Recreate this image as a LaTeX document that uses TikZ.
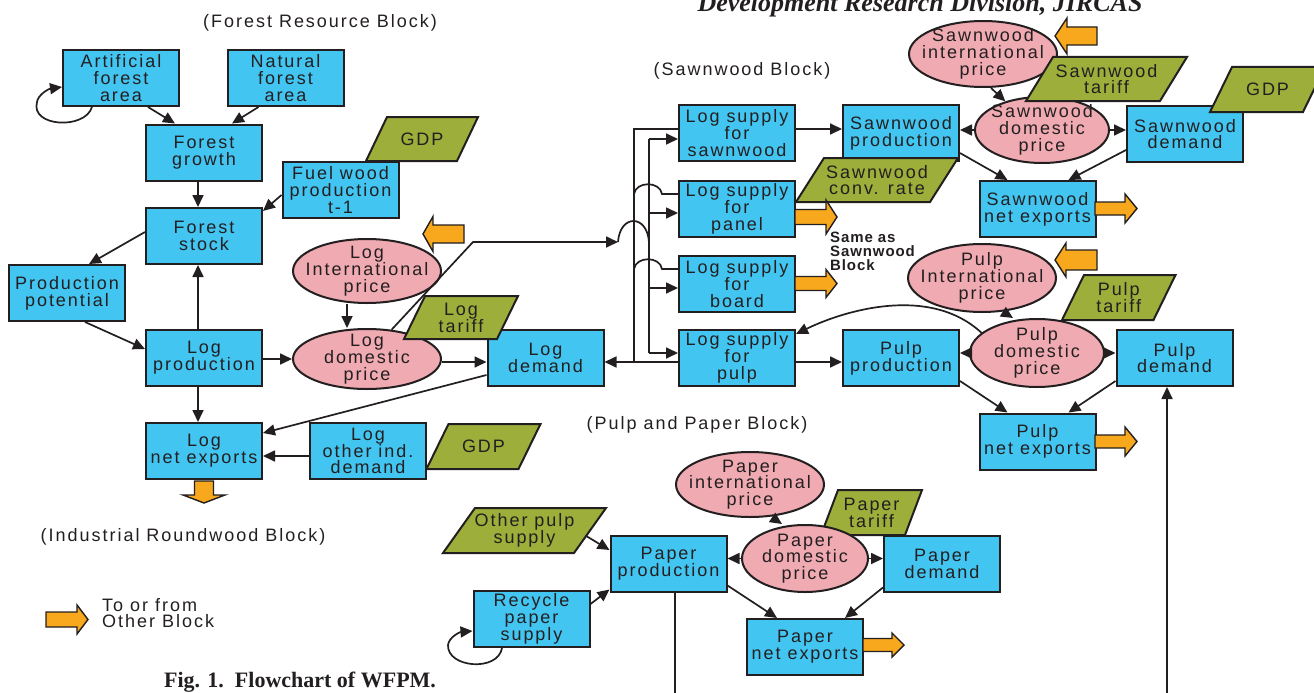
\documentclass[tikz,border=0pt]{standalone}
\usepackage{fontspec}
\setmainfont{Liberation Sans}[LetterSpace=11]
\newfontfamily\serifcap{Liberation Serif}
\newfontfamily\tightsans{Liberation Sans}[LetterSpace=6]
\usetikzlibrary{shapes.geometric,arrows.meta}
\definecolor{boxblue}{RGB}{66,197,241}
\definecolor{pinkfill}{RGB}{239,170,178}
\definecolor{olive}{RGB}{157,174,58}
\definecolor{orangefill}{RGB}{247,168,29}
\definecolor{ink}{RGB}{35,31,32}
\tikzset{
 txt/.style={font=\fontsize{18}{16.8}\selectfont, text=ink, align=center, inner sep=0pt},
 box/.style={txt, draw=ink, line width=2pt, fill=boxblue, minimum width=116pt, minimum height=56pt},
 oval/.style={txt, ellipse, draw=ink, line width=2pt, fill=pinkfill, inner xsep=-20pt, inner ysep=-12pt},
 paratext/.style={txt},
 parafill/.style={fill=olive, draw=ink, line width=2pt, line join=miter},
 conn/.style={draw=ink, line width=1.7pt},
 arr/.style={conn, -{Triangle[length=12pt,width=11pt]}},
 oarr/.style={fill=orangefill, draw=ink, line width=1.4pt, line join=miter},
 pics/oarrow/.style n args={4}{code={\path[oarr] (0,-#2) -- ({#1-#4},-#2) -- ({#1-#4},-#3) -- (#1,0) -- ({#1-#4},#3) -- ({#1-#4},#2) -- (0,#2) -- cycle;}},
}
\newcommand\paragram[7]{%
 \path[parafill] ({#2-#4/2-#6},{#3+#5/2}) -- ({#2+#4/2-#6},{#3+#5/2}) -- ({#2+#4/2+#6},{#3-#5/2}) -- ({#2-#4/2+#6},{#3-#5/2}) -- cycle;
 \node[paratext, minimum width=#4, minimum height=#5] (#1) at (#2,#3) {#7};}
\begin{document}
\begin{tikzpicture}[x=1pt,y=-1pt]
\useasboundingbox (0,0) rectangle (1314,693);
\fill[white] (0,0) rectangle (1314,693);
% boxes
\node[box] (afa) at (121,78) {Artificial\\forest\\area};
\node[box] (nfa) at (285.5,78) {Natural\\forest\\area};
\node[box] (fg) at (204,152.5) {Forest\\growth};
\node[box] (fs) at (204,236) {Forest\\stock};
\node[box] (fw) at (340.5,190) {Fuel wood\\production\\t-1};
\node[box] (pp) at (67,293) {Production\\potential};
\node[box] (lp) at (204,358) {Log\\production};
\node[box] (lne) at (204,451) {Log\\net exports};
\node[box] (lod) at (368,451) {Log\\other ind.\\demand};
\node[box] (ld) at (545.5,358) {Log\\demand};
\node[box] (lss) at (737,133) {Log supply\\for\\sawnwood};
\node[box] (lsp) at (737,209) {Log supply\\for\\panel};
\node[box] (lsb) at (737,284) {Log supply\\for\\board};
\node[box] (lspu) at (737,358) {Log supply\\for\\pulp};
\node[box] (sp) at (901,133) {Sawnwood\\production};
\node[box] (sd) at (1185,134) {Sawnwood\\demand};
\node[box] (sne) at (1037.5,209) {Sawnwood\\net exports};
\node[box] (pup) at (901,358) {Pulp\\production};
\node[box] (pud) at (1174.5,358) {Pulp\\demand};
\node[box] (pune) at (1037.5,441.5) {Pulp\\net exports};
\node[box] (pap) at (668.5,563.5) {Paper\\production};
\node[box] (pad) at (942,563.5) {Paper\\demand};
\node[box] (pane) at (805,647) {Paper\\net exports};
\node[box] (rps) at (531.5,619) {Recycle\\paper\\supply};
% ellipses
\node[oval, minimum width=148, minimum height=64] (lip) at (367,271) {Log\\International\\price};
\node[oval, minimum width=148, minimum height=60] (ldp) at (367,359) {Log\\domestic\\price};
\node[oval, minimum width=148, minimum height=66] (sip) at (983,54) {Sawnwood\\international\\price};
\node[oval, minimum width=134, minimum height=66] (sdp) at (1042,130) {Sawnwood\\domestic\\price};
\node[oval, minimum width=148, minimum height=68] (pip) at (982,278) {Pulp\\International\\price};
\node[oval, minimum width=134, minimum height=68] (pdp) at (1037,353) {Pulp\\domestic\\price};
\node[oval, minimum width=148, minimum height=65] (papi) at (750,484.5) {Paper\\international\\price};
\paragram{ptar}{871.5}{512.5}{84}{45}{8.5}{Paper\\tariff}
\node[oval, minimum width=126, minimum height=67] (papd) at (805,558.5) {Paper\\domestic\\price};
% parallelograms
\paragram{gdpa}{422}{139}{91}{44}{10.5}{GDP}
\paragram{lt}{461}{317.5}{93}{43}{10.5}{Log\\tariff}
\paragram{gdpb}{483.5}{446.5}{92}{45}{11}{GDP}
\paragram{scr}{877}{180}{134}{44}{14}{Sawnwood\\conv. rate}
\paragram{st}{1106.5}{79}{134}{44}{13.5}{Sawnwood\\tariff}
\paragram{gdpc}{1267.5}{89.5}{93}{45}{11}{GDP}
\paragram{pt}{1118.75}{297.5}{91.5}{45}{11}{Pulp\\tariff}
\paragram{ops}{524.5}{530.5}{131}{45}{16}{Other pulp\\supply}
% forest block connectors
\draw[arr] ([xshift=27pt]afa.south) -- ([xshift=-29pt]fg.north);
\draw[arr] ([xshift=-27pt]nfa.south) -- ([xshift=28pt]fg.north);
\draw[arr] ([xshift=-29pt]afa.south) .. controls (85,130) and (30,127) .. (37,102) .. controls (38,95) and (48,89) .. ([yshift=-9pt]afa.west);
\draw[arr] ([xshift=-6pt]fg.south) -- ([xshift=-6pt]fs.north);
\draw[arr] ([yshift=-5pt]fw.west) -- ([yshift=-4pt]fs.north east);
\draw[arr] ([yshift=4pt]fs.west) -- ([xshift=22pt]pp.north);
\draw[arr] ([xshift=18pt]pp.south) -- ([yshift=9pt]lp.west);
\draw[arr] ([xshift=-6pt]lp.north) -- ([xshift=-6pt]fs.south);
\draw[arr] ([xshift=-6pt]lp.south) -- ([xshift=-6pt]lne.north);
\draw[arr] ([yshift=-1pt]lp.east) -- (ldp.west);
\draw[arr] ([xshift=-20pt]lip.south) -- ([xshift=-20pt]ldp.north);
\draw[arr] ([yshift=-3pt]ldp.east) -- ([yshift=-4pt]ld.west);
\draw[arr] ([yshift=12pt]ld.south west) -- ([yshift=-11pt]lne.north east);
\draw[arr] ([yshift=-5pt]lod.west) -- ([yshift=-5pt]lne.east);
% log domestic price to log supplies
\coordinate (k1) at (473,242);
\coordinate (hopa) at (618,242);
\coordinate (hopb) at (649,242);
\draw[arr] (ldp.50) -- (k1) -- (hopa);
\draw[conn] (hopa) .. controls (620,214) and (647,214) .. (hopb);
\coordinate (da) at (649,139);
\coordinate (db) at (649,213);
\coordinate (dc) at (649,288);
\coordinate (dd) at (649,353);
\draw[conn] (da) -- (dd);
\draw[arr] (da) -- (lss.west |- da);
\draw[arr] (db) -- (lsp.west |- db);
\draw[arr] (dc) -- (lsb.west |- dc);
\draw[arr] (dd) -- (lspu.west |- dd);
% log supplies back to log demand
\coordinate (ca) at (634,129);
\coordinate (cb) at (634,194);
\coordinate (cc) at (634,269);
\coordinate (cd) at (634,362);
\coordinate (cb2) at (662,194);
\coordinate (cc2) at (662,269);
\draw[conn] (lss.west |- ca) -- (ca) -- (cd);
\draw[conn] (lsp.west |- cb) -- (cb2) .. controls (660,181) and (636,181) .. (cb);
\draw[conn] (lsb.west |- cc) -- (cc2) .. controls (660,256) and (636,256) .. (cc);
\draw[arr] (lspu.west |- cd) -- (ld.east |- cd);
% sawnwood block
\draw[arr] ([yshift=4pt]lss.east) -- ([yshift=4pt]sp.west);
\draw[arr] (sdp.west) -- (sp.east |- sdp.west);
\draw[arr] (sdp.east) -- (sd.west |- sdp.east);
\draw[arr] ([xshift=8pt]sip.south) -- (sdp.142);
\draw[arr] ([yshift=9pt]sp.south east) -- ([xshift=-30pt]sne.north);
\draw[arr] ([yshift=13pt]sd.south west) -- ([xshift=31pt]sne.north);
% pulp block
\draw[arr] ([yshift=-4pt]lspu.east) -- ([yshift=-4pt]pup.west);
\draw[arr] (pdp.west) -- (pup.east |- pdp.west);
\draw[arr] (pdp.east) -- (pud.west |- pdp.east);
\draw[arr] ([xshift=23pt]pip.south) -- ([xshift=-24pt]pdp.north);
\draw[arr] ([yshift=6pt]pup.south east) -- ([xshift=-30pt]pune.north);
\draw[arr] ([yshift=6pt]pud.south west) -- ([xshift=31pt]pune.north);
\draw[arr] (pdp.160) .. controls (930,285) and (845,310) .. ([yshift=-5pt]lspu.north east);
\coordinate (pubot) at (1167,700);
\draw[arr] (pubot) -- (pubot |- pud.south);
% paper block
\draw[arr] ([xshift=23pt]papi.south) -- ([xshift=-23pt]papd.north);
\draw[arr] (papd.west) -- (pap.east |- papd.west);
\draw[arr] (papd.east) -- (pad.west |- papd.east);
\draw[arr] ([yshift=7pt]pap.south east) -- ([xshift=-28pt]pane.north);
\draw[arr] ([yshift=5pt]pad.south west) -- ([xshift=40pt]pane.north);
\draw[arr] ([shift={(-4pt,-5.5pt)}]ops.east) -- ([yshift=13.5pt]pap.west);
\draw[arr] ([yshift=-14pt]rps.north east) -- ([yshift=3pt]pap.south west);
\draw[arr] ([xshift=-29.5pt]rps.south) .. controls (498,672) and (447,668) .. (448,645) .. controls (449,637) and (460,632) .. ([yshift=-12pt]rps.west);
\coordinate (papbot) at (675,700);
\draw[conn] ([xshift=6.5pt]pap.south) -- (papbot);
% orange block arrows
\pic at (1095,208.5) {oarrow={42}{6.5}{14.5}{12}};
\pic at (1095,441.5) {oarrow={42}{6.5}{14.5}{12}};
\pic at (795,217) {oarrow={42}{7.5}{17}{11}};
\pic at (795,283.5) {oarrow={42}{7}{14}{11}};
\pic at (863,645) {oarrow={41}{6.5}{12}{12}};
\pic at (46,619.5) {oarrow={42}{7.5}{14.5}{11}};
\pic[rotate=180] at (464,234) {oarrow={41}{9}{17.5}{10}};
\pic[rotate=180] at (1097,36) {oarrow={42}{9}{18}{12}};
\pic[rotate=180] at (1097,260) {oarrow={42}{10}{17}{11}};
\pic[rotate=-90] at (204,481) {oarrow={22}{9.5}{21}{8}};
% texts
\node[txt] (tfrb) at (320,23) {(Forest Resource Block)};
\node[txt] (tswb) at (742,71) {(Sawnwood Block)};
\node[txt] (tppb) at (697,425) {(Pulp and Paper Block)};
\node[txt] (tirb) at (183,537) {(Industrial Roundwood Block)};
\node[txt, align=left, anchor=west] (tleg) at (102,613) {To or from\\Other Block};
\node[font=\tightsans\bfseries\fontsize{15}{14}\selectfont, align=left, anchor=west, text=ink, inner sep=0pt] (tsame) at (830,251) {Same as\\Sawnwood\\Block};
\node[font=\serifcap\bfseries\fontsize{22}{22}\selectfont, text=ink, inner sep=0pt] (tfig) at (300,682) {Fig. 1.\ \ Flowchart of WFPM.};
\node[font=\serifcap\bfseries\itshape\fontsize{26}{26}\selectfont, text=ink, inner sep=0pt, anchor=base] (thead) at (920,12) {Development Research Division, JIRCAS};
\end{tikzpicture}
\end{document}
